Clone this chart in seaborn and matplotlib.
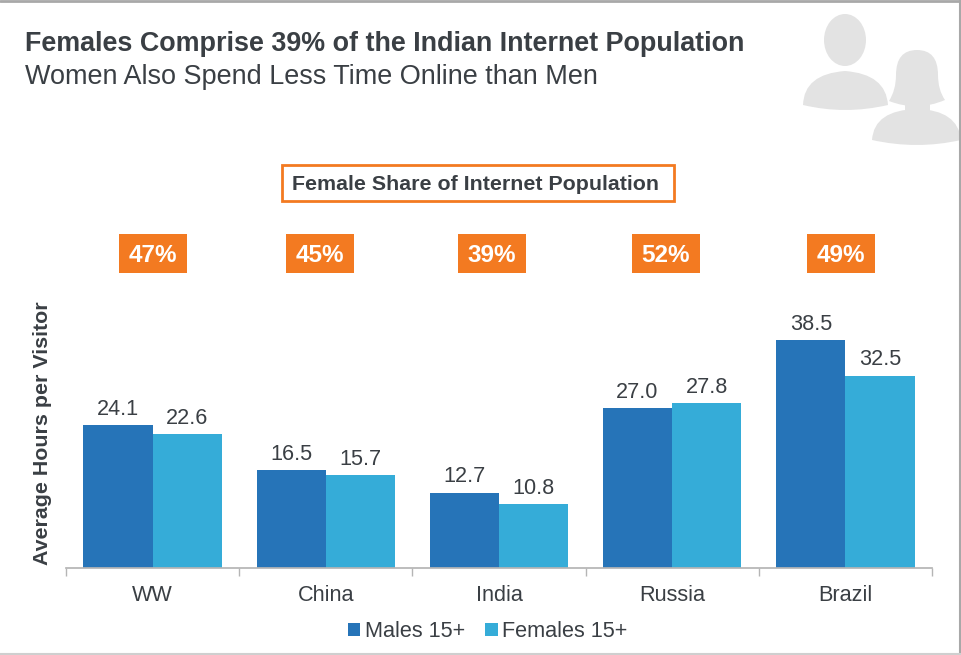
import pandas as pd
import matplotlib.pyplot as plt
import seaborn as sns
from matplotlib.patches import Ellipse, PathPatch, Rectangle
from matplotlib.path import Path

regions = ["WW", "China", "India", "Russia", "Brazil"]
males = [24.1, 16.5, 12.7, 27.0, 38.5]
females = [22.6, 15.7, 10.8, 27.8, 32.5]
female_share = ["47%", "45%", "39%", "52%", "49%"]

BLUE = "#2674b8"
CYAN = "#35acd8"
ORANGE = "#f37a21"
DARK = "#3a3f44"
ICON = "#e3e3e3"
GRID = "#b5b5b5"

# the orange boxes are not quite centred over the groups in the original
box_centres = [153, 320, 492, 666, 841]


def blob(ax, verts):
    # closed shape from quadratic segments: start, then (control, end) pairs
    codes = [Path.MOVETO] + [Path.CURVE3] * (len(verts) - 1)
    ax.add_patch(PathPatch(Path(verts, codes), fc=ICON, ec="none"))


def draw_icons(ax):
    ax.add_patch(Ellipse((845, 40), 42, 52, fc=ICON, ec="none"))
    blob(ax, [(803, 105), (804, 74), (845, 71), (886, 74), (888, 105),
              (845, 115), (803, 105)])
    blob(ax, [(889, 101), (896, 90), (896, 75), (896, 50), (917, 50),
              (938, 50), (938, 75), (938, 90), (945, 100), (917, 112), (889, 101)])
    ax.add_patch(Rectangle((905, 100), 25, 15, fc=ICON, ec="none"))
    blob(ax, [(872, 140), (874, 110), (917, 109), (958, 110), (961, 140),
              (917, 150), (872, 140)])


sns.set_theme(style="white")
plt.rcParams["font.family"] = ["Liberation Sans", "DejaVu Sans"]

df = pd.DataFrame({"region": regions, "Males 15+": males, "Females 15+": females})
df = df.melt(id_vars="region", var_name="group", value_name="hours")

fig = plt.figure(figsize=(9.62, 6.55), dpi=100)
ax = fig.add_axes([66 / 962, 87 / 655, 866 / 962, 268 / 655])
sns.barplot(data=df, x="region", y="hours", hue="group", order=regions,
            palette=[BLUE, CYAN], width=0.8, gap=0, saturation=1, linewidth=0, ax=ax)

for container in ax.containers:
    ax.bar_label(container, fmt="%.1f", padding=4, fontsize=15.6, color=DARK)

ax.set_xlim(-0.5, 4.5)
ax.set_ylim(0, 268 / 5.92)
ax.set_xlabel("")
ax.set_ylabel("")
ax.set_yticks([])
ax.set_xticks([i - 0.5 for i in range(6)], minor=True)
ax.tick_params(axis="x", which="minor", bottom=True, length=6, width=1, color=GRID)
ax.tick_params(axis="x", which="major", bottom=False, pad=6, labelsize=15.6, labelcolor=DARK)
for side in ["top", "left", "right"]:
    ax.spines[side].set_visible(False)
ax.spines["bottom"].set_color(GRID)

ax.legend(loc="upper center", bbox_to_anchor=(0.487, -0.158), ncol=2, frameon=False,
          fontsize=15.6, labelcolor=DARK, handlelength=0.56, handleheight=0.56,
          handletextpad=0.2, columnspacing=0.95, borderpad=0)

# overlay in pixel coordinates for the slide furniture
over = fig.add_axes([0, 0, 1, 1], zorder=-1)
over.set_xlim(0, 962)
over.set_ylim(655, 0)
over.axis("off")
ax.patch.set_alpha(0)

over.plot([0, 962], [1, 1], color="#a8a8a8", lw=2)
over.plot([960.5, 960.5], [0, 655], color="#a8a8a8", lw=1.5)
over.plot([0, 962], [654, 654], color="#cfcfcf", lw=1.5)
draw_icons(over)

over.text(25, 44, "Females Comprise 39% of the Indian Internet Population", fontsize=19.4,
          fontweight="bold", color=DARK, va="center")
over.text(25, 77, "Women Also Spend Less Time Online than Men", fontsize=19.45, color=DARK, va="center")

over.add_patch(Rectangle((282, 165), 392, 36, fc="white", ec=ORANGE, lw=2))
over.text(476, 185, "Female Share of Internet Population", fontsize=15.4, fontweight="bold",
          color=DARK, ha="center", va="center")

for cx, share in zip(box_centres, female_share):
    over.add_patch(Rectangle((cx - 34, 234), 68, 39, fc=ORANGE, ec="none"))
    over.text(cx, 255, share, fontsize=17.5, fontweight="bold", color="white",
              ha="center", va="center")

fig.text(43 / 962, 1 - 433 / 655, "Average Hours per Visitor", rotation=90, fontsize=15.4,
         fontweight="bold", color=DARK, ha="center", va="center")

fig.savefig("out.png", dpi=100)
